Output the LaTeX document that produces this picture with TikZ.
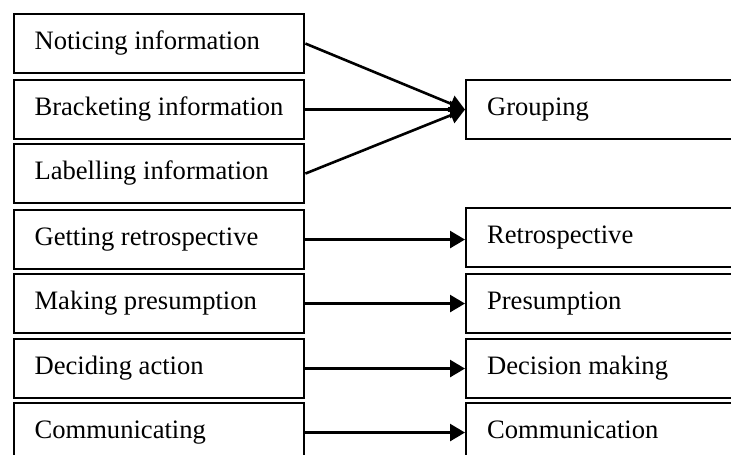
\documentclass[tikz,border=0pt]{standalone}
\usepackage{fontspec}
\setmainfont{Liberation Serif}
\usetikzlibrary{arrows.meta}
\newcommand\leftlabeltext[1]{\makebox[249pt][l]{#1}}
\newcommand\rightlabeltext[1]{\makebox[258pt][l]{#1}}
\begin{document}
\begin{tikzpicture}[x=1pt,y=-1pt,
  boxbase/.style={draw, line width=2.1pt, inner ysep=0pt, anchor=north west,
    text height=18.2pt, text depth=5.8pt, font=\fontsize{26.6}{30}\selectfont},
  leftbox/.style={boxbase, minimum width=290.6pt, minimum height=59pt, inner xsep=20.5pt},
  rightbox/.style={boxbase, minimum width=300pt, minimum height=59pt, inner xsep=21pt},
  arrowline/.style={-{Triangle[length=15pt,width=17pt]}, line width=2.6pt}]
\useasboundingbox (0,0) rectangle (731,455);
\clip (0,0) rectangle (731,455);
% left column
\node[leftbox] (n1) at (12.7,13)  {\leftlabeltext{Noticing information}};
\node[leftbox] (n2) at (12.7,79)  {\leftlabeltext{Bracketing information}};
\node[leftbox] (n3) at (12.7,143) {\leftlabeltext{Labelling information}};
\node[leftbox] (n4) at (12.7,209) {\leftlabeltext{Getting retrospective}};
\node[leftbox] (n5) at (12.7,273) {\leftlabeltext{Making presumption}};
\node[leftbox] (n6) at (12.7,338) {\leftlabeltext{Deciding action}};
\node[leftbox] (n7) at (12.7,402) {\leftlabeltext{Communicating}};
% right column
\node[rightbox] (g) at (465,79)  {\rightlabeltext{Grouping}};
\node[rightbox] (r) at (465,207) {\rightlabeltext{Retrospective}};
\node[rightbox] (p) at (465,273) {\rightlabeltext{Presumption}};
\node[rightbox] (d) at (465,338) {\rightlabeltext{Decision making}};
\node[rightbox] (c) at (465,402) {\rightlabeltext{Communication}};
% connectors
\draw[arrowline] (n1.east) -- (g.west);
\draw[arrowline] (n2.east) -- (g.west);
\draw[arrowline] (n3.east) -- (g.west);
\draw[arrowline] (n4.east) -- (n4.east -| r.west);
\draw[arrowline] (n5.east) -- (n5.east -| p.west);
\draw[arrowline] (n6.east) -- (n6.east -| d.west);
\draw[arrowline] (n7.east) -- (n7.east -| c.west);
\end{tikzpicture}
\end{document}
